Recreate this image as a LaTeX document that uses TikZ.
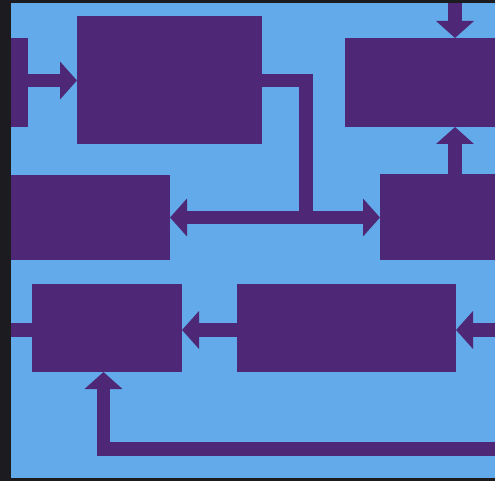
\documentclass[tikz,border=0pt]{standalone}
\usetikzlibrary{arrows.meta,positioning}
\definecolor{skyblue}{RGB}{98,170,233}
\definecolor{plum}{RGB}{78,40,118}
\definecolor{edge}{RGB}{28,28,32}
\begin{document}
\begin{tikzpicture}[x=1pt,y=-1pt,
	block/.style={fill=plum, inner sep=0pt, outer sep=0pt},
	flow/.style={draw=plum, line width=13.5pt, line join=miter},
	>={Triangle[width=37pt,length=17pt]}]

	\useasboundingbox (0,0) rectangle (495,481);
	\clip (0,0) rectangle (495,481);
	\fill[skyblue] (0,0) rectangle (495,481);

	\node (src) [block, minimum width=28pt, minimum height=89pt] at (14,82.5) {};
	\node (A) [block, minimum width=185pt, minimum height=128pt] at (169.5,80) {};
	\node (B) [block, minimum width=165pt, minimum height=89pt] at (427.5,82.5) {};
	\node (C) [block, minimum width=130pt, minimum height=86pt] at (445,217) {};
	\node (D) [block, minimum width=170pt, minimum height=85pt] at (85,217.5) {};
	\node (E) [block, minimum width=150pt, minimum height=88pt] at (107,328) {};
	\node (F) [block, minimum width=219pt, minimum height=88pt] at (346.5,328) {};

	\coordinate (inB) at (455,-5);
	\coordinate (split) at (306,217.5);
	\coordinate (inF) at (500,330);
	\coordinate (out) at (-5,330);
	\coordinate (fb) at (500,449);
	\coordinate (fbx) at (103.5,449);

	\draw [flow, ->] (src.east |- 0,80.5) -- (A.west |- 0,80.5);
	\draw [flow, ->] (inB) -- (inB |- B.north);
	\draw [flow, ->] (C.north -| inB) -- (B.south -| inB);
	\draw [flow] (A.east |- 0,80.5) -| (split);
	\draw [flow, <->] (D.east |- split) -- (C.west |- split);
	\draw [flow, ->] (F.west |- inF) -- (E.east |- inF);
	\draw [flow, ->] (inF) -- (F.east |- inF);
	\draw [flow] (E.west |- inF) -- (out);
	\draw [flow, ->] (fb) -- (fbx) -- (fbx |- E.south);

	\fill[edge] (0,0) rectangle (11,481);
	\fill[edge] (0,0) rectangle (495,3);
	\fill[edge] (0,478) rectangle (495,481);

\end{tikzpicture}
\end{document}
